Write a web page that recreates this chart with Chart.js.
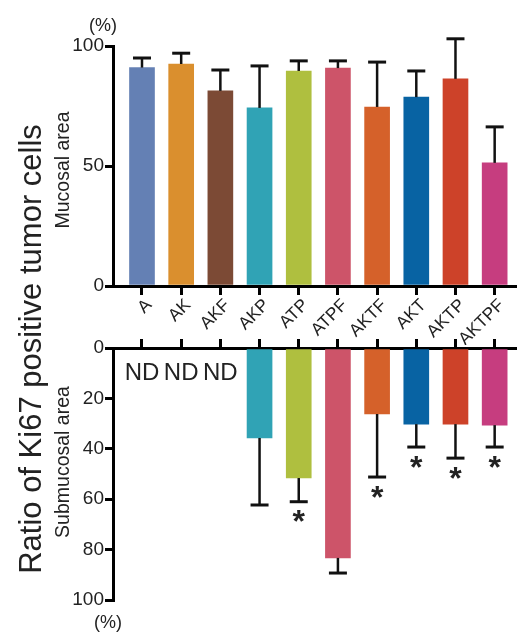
<!DOCTYPE html>
<html>
<head>
<meta charset="utf-8">
<script src="https://cdn.jsdelivr.net/npm/chart.js@4"></script>
<style>
  body { margin:0; background:#fff; font-family:"Liberation Sans", Arial, sans-serif; color:#222; }
  #wrap { position:relative; width:517px; height:632px; overflow:hidden; }
  canvas { position:absolute; left:0; }
  #top { top:0; }
  #bot { top:330px; }
  .lbl { position:absolute; white-space:nowrap; transform:translate(-50%,-50%); }
  .rot { transform:translate(-50%,-50%) rotate(-90deg); }
</style>
</head>
<body>
<div id="wrap">
  <canvas id="top" width="517" height="345"></canvas>
  <canvas id="bot" width="517" height="302"></canvas>
  <div class="lbl rot" style="left:31px;top:349px;font-size:31px">Ratio of Ki67 positive tumor cells</div>
  <div class="lbl rot" style="left:62px;top:170px;font-size:19.5px">Mucosal area</div>
  <div class="lbl rot" style="left:62px;top:462px;font-size:19.5px">Submucosal area</div>
  <div class="lbl" style="left:103px;top:25px;font-size:18px">(%)</div>
  <div class="lbl" style="left:108px;top:622px;font-size:18px">(%)</div>
</div>
<script>
// ── DATA ──────────────────────────────────────────────────
const groups  = ['A','AK','AKF','AKP','ATP','ATPF','AKTF','AKT','AKTP','AKTPF'];
const colors  = ['#6480b4','#da8f2e','#7c4a35','#30a3b5','#afbf3f','#cd5469','#d5612a','#0863a3','#cd4229','#c63d7f'];
const mucosal    = [91, 92.5, 81.3, 74.2, 89.6, 90.8, 74.6, 78.7, 86.3, 51.3];
const mucosalSD  = [4, 4.5, 8.7, 17.5, 4.2, 3, 18.7, 10.9, 16.7, 15];
const submucosal   = [null, null, null, 35.7, 51.6, 83.3, 26.2, 30.2, 30.2, 30.6];
const submucosalSD = [null, null, null, 26.6, 9.4, 6, 25, 9.1, 13.5, 8.7];
const signif       = [0, 0, 0, 0, 1, 0, 1, 1, 1, 1];
const mucosalTicks    = [0, 50, 100];
const submucosalTicks = [0, 20, 40, 60, 80, 100];

const FONT = '"Liberation Sans", Arial, sans-serif';
const INK  = '#222';

// error bars (one-sided, away from zero) + stars + ND
const extras = {
  id: 'extras',
  afterDatasetsDraw(chart, args, opts) {
    const ctx = chart.ctx, ys = chart.scales.y;
    const meta = chart.getDatasetMeta(0);
    ctx.save();
    opts.means.forEach((m, i) => {
      const x = chart.scales.x.getPixelForValue(i);
      if (m == null) {
        if (opts.nd) {
          ctx.fillStyle = INK;
          ctx.font = '24px ' + FONT;
          ctx.textAlign = 'center';
          ctx.textBaseline = 'middle';
          ctx.fillText('ND', x, ys.getPixelForValue(10));
        }
        return;
      }
      const y0 = meta.data[i].y;
      const y1 = ys.getPixelForValue(m + opts.sd[i]);
      ctx.strokeStyle = '#111';
      ctx.lineWidth = 2.5;
      ctx.beginPath();
      ctx.moveTo(x, y0); ctx.lineTo(x, y1);
      ctx.stroke();
      ctx.lineWidth = 3;
      ctx.beginPath();
      ctx.moveTo(x - 9, y1); ctx.lineTo(x + 9, y1);
      ctx.stroke();
      if (opts.stars && opts.stars[i]) {
        ctx.fillStyle = INK;
        ctx.font = 'bold 32px ' + FONT;
        ctx.textAlign = 'center';
        ctx.textBaseline = 'alphabetic';
        ctx.fillText('*', x, y1 + 13 + 0.55 * 32);
      }
    });
    ctx.restore();
  }
};

function xScale(pos, height, showLabels) {
  return {
    type: 'linear', position: pos, min: -0.74, max: 9.57, offset: false,
    afterBuildTicks: s => { s.ticks = groups.map((g, i) => ({ value: i })); },
    afterFit: s => { s.height = height; },
    border: { display: true, color: '#000', width: 3 },
    grid: { offset: false, drawOnChartArea: false, drawTicks: true, tickLength: 9, color: '#000', lineWidth: 3 },
    ticks: {
      display: showLabels, autoSkip: false, minRotation: 45, maxRotation: 45, padding: 0, labelOffset: 7,
      color: INK, font: { family: FONT, size: 17.5 },
      callback: v => groups[v]
    }
  };
}

function yScale(ticks, reverse) {
  return {
    min: 0, max: 100, reverse: reverse,
    afterBuildTicks: s => { s.ticks = ticks.map(v => ({ value: v })); },
    afterFit: s => { s.width = 113; },
    border: { display: true, color: '#000', width: 3 },
    grid: { drawOnChartArea: false, drawTicks: true, tickLength: 8, color: '#000', lineWidth: 3 },
    ticks: { padding: 1, color: INK, font: { family: FONT, size: 19 } }
  };
}

function toPoints(vals) { return vals.map((v, i) => ({ x: i, y: v })); }

// ── MUCOSAL (top) ─────────────────────────────────────────
new Chart(document.getElementById('top'), {
  type: 'bar',
  data: { datasets: [{ data: toPoints(mucosal), backgroundColor: colors, barThickness: 25 }] },
  options: {
    responsive: false, animation: false,
    layout: { padding: { top: 46, left: 0, right: 0, bottom: 0 } },
    plugins: { legend: { display: false }, tooltip: { enabled: false },
      extras: { means: mucosal, sd: mucosalSD } },
    scales: { x: xScale('bottom', 59, true), y: yScale(mucosalTicks, false) }
  },
  plugins: [extras]
});

// ── SUBMUCOSAL (bottom, hanging down) ─────────────────────
new Chart(document.getElementById('bot'), {
  type: 'bar',
  data: { datasets: [{ data: toPoints(submucosal), backgroundColor: colors, barThickness: 25 }] },
  options: {
    responsive: false, animation: false,
    layout: { padding: { top: 0, left: 0, right: 0, bottom: 32 } },
    plugins: { legend: { display: false }, tooltip: { enabled: false },
      extras: { means: submucosal, sd: submucosalSD, stars: signif, nd: true } },
    scales: { x: xScale('top', 18, false), y: yScale(submucosalTicks, true) }
  },
  plugins: [extras]
});
</script>
</body>
</html>
